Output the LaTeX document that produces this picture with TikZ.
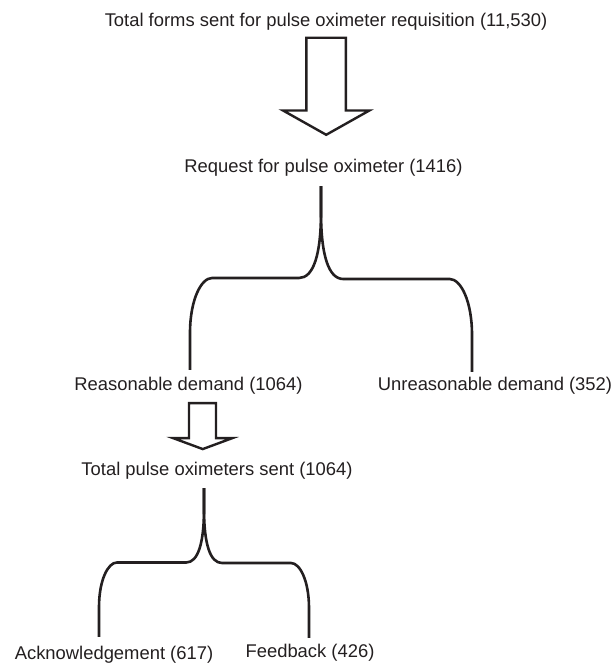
\documentclass[tikz,border=0pt]{standalone}
\usepackage{fontspec}
\setmainfont{Liberation Sans}
\usetikzlibrary{calc}
\definecolor{ink}{HTML}{231F20}

\begin{document}
\begin{tikzpicture}[x=1pt,y=1pt,
    lbl/.style={inner sep=0pt, text=ink, font=\fontsize{18.4}{22}\selectfont},
    hollow/.style={draw=ink, line width=2.4pt, fill=white, line join=miter},
    brace/.style={draw=ink, line width=2.6pt, to path={
        let \p1=(\tikztostart), \p2=(\tikztotarget),
            \n1={sign(\x2-\x1)}, \n2={\y1-\y2}, \n3={(\y1+\y2)/2} in
        -- (\x1,\y1-0.14*\n2)
        .. controls (\x1,\n3+0.13*\n2) and (\x1+\n1*0.04*\n2,\n3) .. (\x1+\n1*0.12*\n2,\n3)
        -- (\x2-\n1*0.12*\n2,\n3)
        .. controls (\x2-\n1*0.06*\n2,\n3) and (\x2,\n3-0.12*\n2) .. (\x2,\n3-0.3*\n2)
        -- (\tikztotarget)}}]
    \useasboundingbox (0,0) rectangle (615,-664);

    % labels
    \node[lbl] (total) at (326,-22) {Total forms sent for pulse oximeter requisition (11,530)};
    \node[lbl] (req) at (323.5,-168) {Request for pulse oximeter (1416)};
    \node[lbl] (rd) at (188.5,-386) {Reasonable demand (1064)};
    \node[lbl] (ud) at (495,-386) {Unreasonable demand (352)};
    \node[lbl] (sent) at (217,-471) {Total pulse oximeters sent (1064)};
    \node[lbl] (ack) at (114,-655) {Acknowledgement (617)};
    \node[lbl] (fb) at (310,-653) {Feedback (426)};

    % brace ends
    \coordinate (reqstem) at ([xshift=-2.5,yshift=-9.3]req.south);
    \coordinate (rdtop) at ([xshift=1.5,yshift=7.3]rd.north);
    \coordinate (udtop) at ([xshift=-23,yshift=5.3]ud.north);
    \coordinate (sentstem) at ([xshift=-13,yshift=-8.3]sent.south);
    \coordinate (acktop) at ([xshift=-15,yshift=9.3]ack.north);
    \coordinate (fbtop) at ([xshift=-1,yshift=6.3]fb.north);

    % big arrow
    \draw[hollow] ([yshift=-7]total.south) ++(-19.6,0) -- ++(0,-72.7) -- ++(-23.4,0)
        -- ++(43.2,-24.3) -- ++(43.2,24.3) -- ++(-23.6,0) -- ++(0,72.7) -- cycle;
    % small arrow
    \draw[hollow] ([xshift=14,yshift=-8.3]rd.south) ++(-13.5,0) -- ++(0,-35) -- ++(-16,0)
        -- ++(29.75,-11) -- ++(29.75,11) -- ++(-16.5,0) -- ++(0,35) -- cycle;

    % braces
    \draw[brace] (reqstem) to (rdtop);
    \draw[brace] (reqstem) to (udtop);
    \draw[brace] (sentstem) to (acktop);
    \draw[brace] (sentstem) to (fbtop);
\end{tikzpicture}
\end{document}
